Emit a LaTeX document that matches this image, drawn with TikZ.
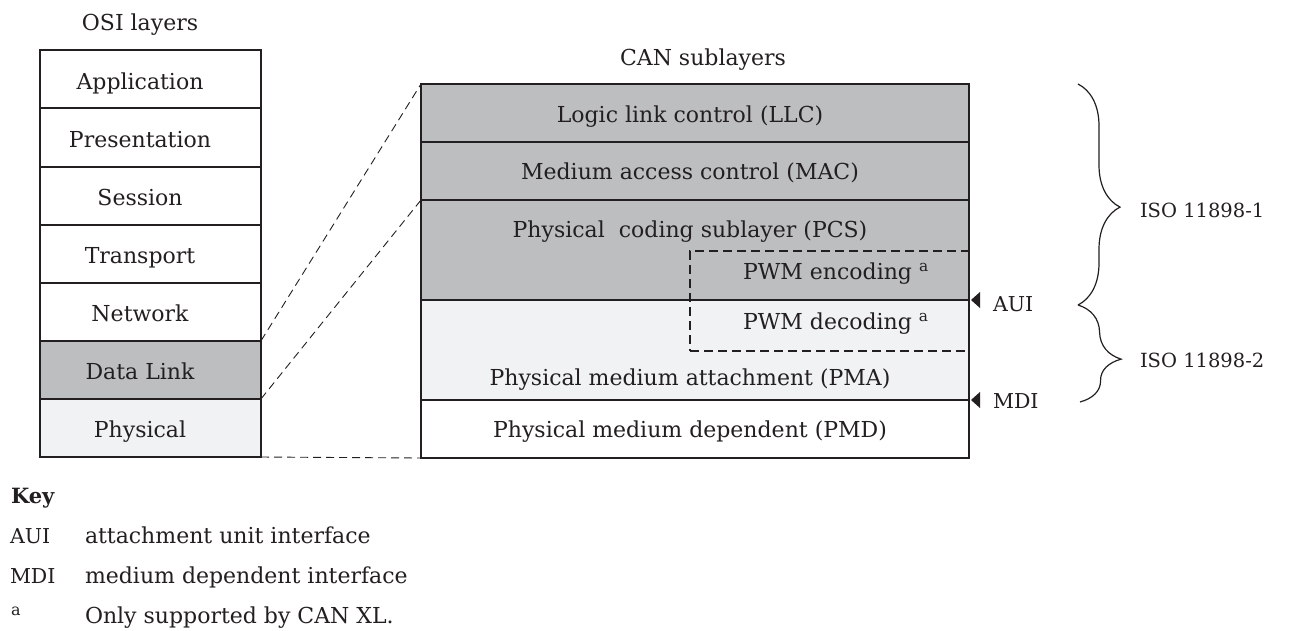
\documentclass[tikz,border=0pt]{standalone}
\usepackage{fontspec}
\setmainfont{DejaVu Serif}
\usetikzlibrary{decorations.pathreplacing}
\definecolor{dk}{HTML}{BCBEC0}
\definecolor{lt}{HTML}{F1F2F4}
\definecolor{ink}{HTML}{231F20}
\begin{document}
\begin{tikzpicture}[x=1pt,y=-1pt,
  every node/.style={inner sep=0pt, outer sep=0pt, text=ink, font=\fontsize{22}{26}\selectfont},
  row/.style={draw=ink, line width=2pt, rectangle, anchor=north west},
  osirow/.style={row, minimum width=221pt, minimum height=58.1pt},
  canrow/.style={row, minimum width=548pt, minimum height=#1},
  txt/.style={anchor=base},
  txtw/.style={anchor=base west},
  conn/.style={draw=ink, line width=0.9pt, dash pattern=on 8pt off 5pt},
  dbox/.style={draw=ink, line width=1.3pt, dash pattern=on 9pt off 5pt, rectangle, anchor=north west},
  bracestyle/.style={draw=ink, line width=1.2pt, decorate},
  lbl/.style={font=\fontsize{20.5}{24}\selectfont},
  iso/.style={font=\fontsize{19.5}{24}\selectfont}]
\useasboundingbox[fill=white] (0,0) rectangle (1297,630);

% OSI layers
\node[txt] (osiT) at (140,30) {OSI layers};
\node[osirow, fill=white] (app) at (40,50.3) {};
\node[osirow, fill=white] (pres) at (40,108.4) {};
\node[osirow, fill=white] (sess) at (40,166.5) {};
\node[osirow, fill=white] (trans) at (40,224.6) {};
\node[osirow, fill=white] (net) at (40,282.7) {};
\node[osirow, fill=dk] (dl) at (40,340.8) {};
\node[osirow, fill=lt] (phy) at (40,398.9) {};
\node[txt] (appT) at (140,89) {Application};
\node[txt] (presT) at (140,147) {Presentation};
\node[txt] (sessT) at (140,205) {Session};
\node[txt] (transT) at (140,263) {Transport};
\node[txt] (netT) at (140,321) {Network};
\node[txt] (dlT) at (140,379) {Data Link};
\node[txt] (phyT) at (140,437) {Physical};

% CAN sublayers
\node[txt] (canT) at (703,65) {CAN sublayers};
\node[canrow=58pt, fill=dk] (llc) at (421,84) {};
\node[canrow=58pt, fill=dk] (mac) at (421,142) {};
\node[canrow=100pt, fill=dk] (pcs) at (421,200) {};
\node[canrow=100pt, fill=lt] (pma) at (421,300) {};
\node[canrow=58pt, fill=white] (pmd) at (421,400) {};
\node[dbox, minimum width=279pt, minimum height=100pt] (pwm) at (690,251) {};
\node[txt] (llcT) at (690,122) {Logic link control (LLC)};
\node[txt] (macT) at (690,179) {Medium access control (MAC)};
\node[txt] (pcsT) at (690,237) {Physical\ \ coding sublayer (PCS)};
\node[txtw] (encT) at (743,279) {PWM encoding \textsuperscript{a}};
\node[txtw] (decT) at (743,329) {PWM decoding \textsuperscript{a}};
\node[txt] (pmaT) at (690,385) {Physical medium attachment (PMA)};
\node[txt] (pmdT) at (690,437) {Physical medium dependent (PMD)};

% zoom connectors
\draw[conn] (net.south east) -- (llc.north west);
\draw[conn] (dl.south east) -- (pcs.north west);
\draw[conn] (phy.south east) -- (pmd.south west);

% interfaces
\coordinate (auiP) at (pma.north east);
\coordinate (mdiP) at (pmd.north east);
\fill[ink] ([xshift=2pt]auiP) -- ++(9,-8) -- ++(0,16) -- cycle;
\fill[ink] ([xshift=2pt]mdiP) -- ++(9,-8) -- ++(0,16) -- cycle;
\node[txtw, lbl] (aui) at (993,311) {AUI};
\node[txtw, lbl] (mdi) at (993,408) {MDI};

% braces
\coordinate (b1) at (1078,84);
\coordinate (b2) at (1078,305);
\coordinate (b3) at (1080,402);
\draw[bracestyle, decoration={brace, amplitude=42pt, aspect=0.557}] (b1) -- (b2);
\draw[bracestyle, decoration={brace, amplitude=42pt, aspect=0.567}] (b2) -- (b3);
\node[txtw, iso] (iso1) at (1140,217) {ISO 11898-1};
\node[txtw, iso] (iso2) at (1140,367) {ISO 11898-2};

% key
\node[txtw, font=\bfseries\fontsize{21}{24}\selectfont] (key) at (11,503) {Key};
\node[txtw, lbl] (kaui) at (10,543) {AUI};
\node[txtw] (kauiT) at (85,543) {attachment unit interface};
\node[txtw, lbl] (kmdi) at (10,583) {MDI};
\node[txtw] (kmdiT) at (85,583) {medium dependent interface};
\node[txtw, font=\fontsize{16}{18}\selectfont] (ka) at (11,615) {a};
\node[txtw] (kaT) at (85,623) {Only supported by CAN XL.};
\end{tikzpicture}
\end{document}
